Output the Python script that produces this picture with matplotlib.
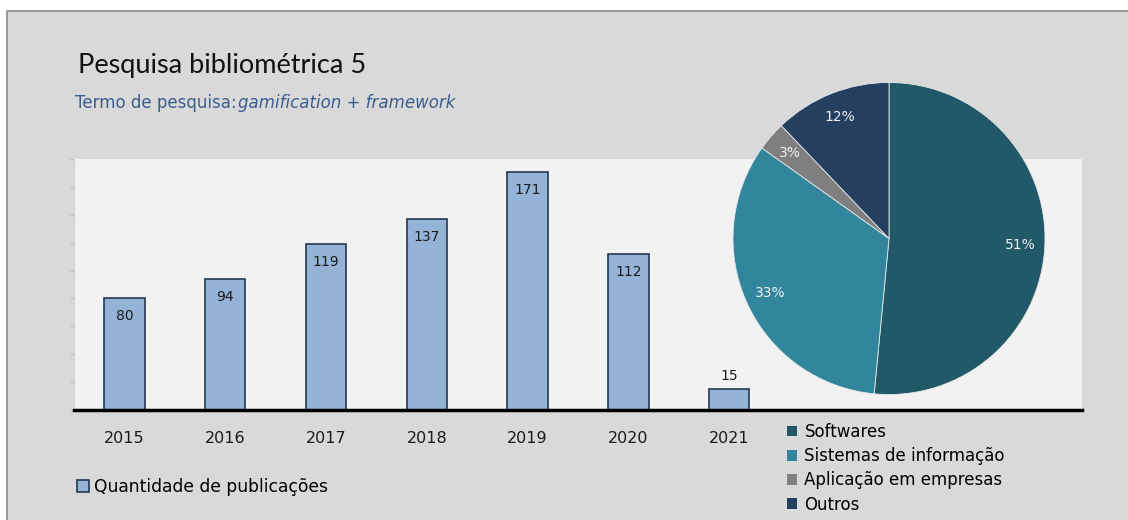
import matplotlib.pyplot as plt
from matplotlib.patches import Rectangle, Patch

# publicações por ano
anos = ['2015', '2016', '2017', '2018', '2019', '2020', '2021']
publicacoes = [80, 94, 119, 137, 171, 112, 15]

# distribuição por tema (%)
temas = ['Softwares', 'Sistemas de informação', 'Aplicação em empresas', 'Outros']
percentuais = [51, 33, 3, 12]
cores_temas = ['#215968', '#31859c', '#7f7f7f', '#243f60']

W, H = 1128, 520
fig = plt.figure(figsize=(W / 100, H / 100), dpi=100, facecolor='white')

# fundo cinza com borda
fig.patches.append(Rectangle((7 / W, -0.01), 1.0, (H - 11) / H + 0.01,
                             transform=fig.transFigure, facecolor='#d9d9d9',
                             edgecolor='#8c8c8c', linewidth=1.2, zorder=-5))

fig.text(78 / W, 1 - 65 / H, 'Pesquisa bibliométrica 5', fontsize=19.5,
         family='Lato', color='#111111', va='center')
t1 = fig.text(75 / W, 1 - 103 / H, 'Termo de pesquisa: ', fontsize=12,
              color='#3a5d8f', va='center')
fig.canvas.draw()
bb = t1.get_window_extent()
fig.text(bb.x1 / W - 4 / W, 1 - 103 / H, 'gamification + framework', fontsize=12,
         color='#3a5d8f', style='italic', va='center')

# gráfico de barras
ax = fig.add_axes([74 / W, (H - 410) / H, (1082 - 74) / W, (410 - 159) / H])
ax.set_facecolor('#f2f2f2')
x = list(range(len(anos)))
ax.bar(x, publicacoes, width=0.4, color='#95b3d7', edgecolor='#25394f', linewidth=1.2,
       zorder=2)
for xi, v in zip(x, publicacoes):
    if v < 30:
        ax.annotate(str(v), (xi, v), xytext=(0, 9.5), textcoords='offset points',
                    ha='center', va='center', fontsize=10, color='#1a1a1a')
    else:
        ax.annotate(str(v), (xi, v), xytext=(0, -13), textcoords='offset points',
                    ha='center', va='center', fontsize=10, color='#1a1a1a')
ax.set_xlim(-0.5, 9.5)
ax.set_ylim(0, 180)
ax.set_yticks(range(0, 181, 20))
ax.set_yticklabels([])
ax.set_xticks(x)
ax.set_xticklabels(anos, fontsize=11.5, color='#1a1a1a')
ax.tick_params(axis='x', length=0, pad=15)
ax.tick_params(axis='y', length=3, color='#bfbfbf', direction='out')
for s in ['top', 'right']:
    ax.spines[s].set_visible(False)
ax.spines['left'].set_color('#d0d0d0')
ax.spines['bottom'].set_color('black')
ax.spines['bottom'].set_linewidth(2.5)

fig.legend(handles=[Patch(facecolor='#95b3d7', edgecolor='#25394f', linewidth=1.2,
                          label='Quantidade de publicações')],
           loc='center left', bbox_to_anchor=(77 / W, 1 - 487 / H), frameon=False,
           fontsize=12.3, handlelength=0.7, handleheight=0.7, handletextpad=0.3,
           borderaxespad=0, borderpad=0)

# gráfico de pizza
ax2 = fig.add_axes([733 / W, (H - 394.5) / H, 312 / W, 312 / H])
ax2.pie(percentuais, colors=cores_temas, startangle=90, counterclock=False,
        autopct='%d%%', pctdistance=0.84,
        wedgeprops=dict(edgecolor='#e8e8e8', linewidth=0.6),
        textprops=dict(color='#f0f0f0', fontsize=10))
ax2.set_xlim(-1, 1)
ax2.set_ylim(-1, 1)
ax2.set_aspect('equal')
ax2.axis('off')

fig.legend(handles=[Patch(facecolor=c, label=t) for c, t in zip(cores_temas, temas)],
           loc='upper left', bbox_to_anchor=(787 / W, 1 - 423 / H), frameon=False,
           fontsize=12, handlelength=0.6, handleheight=0.6, handletextpad=0.45,
           labelspacing=0.37, borderaxespad=0, borderpad=0)

fig.savefig('out.png', dpi=100, facecolor='white')
